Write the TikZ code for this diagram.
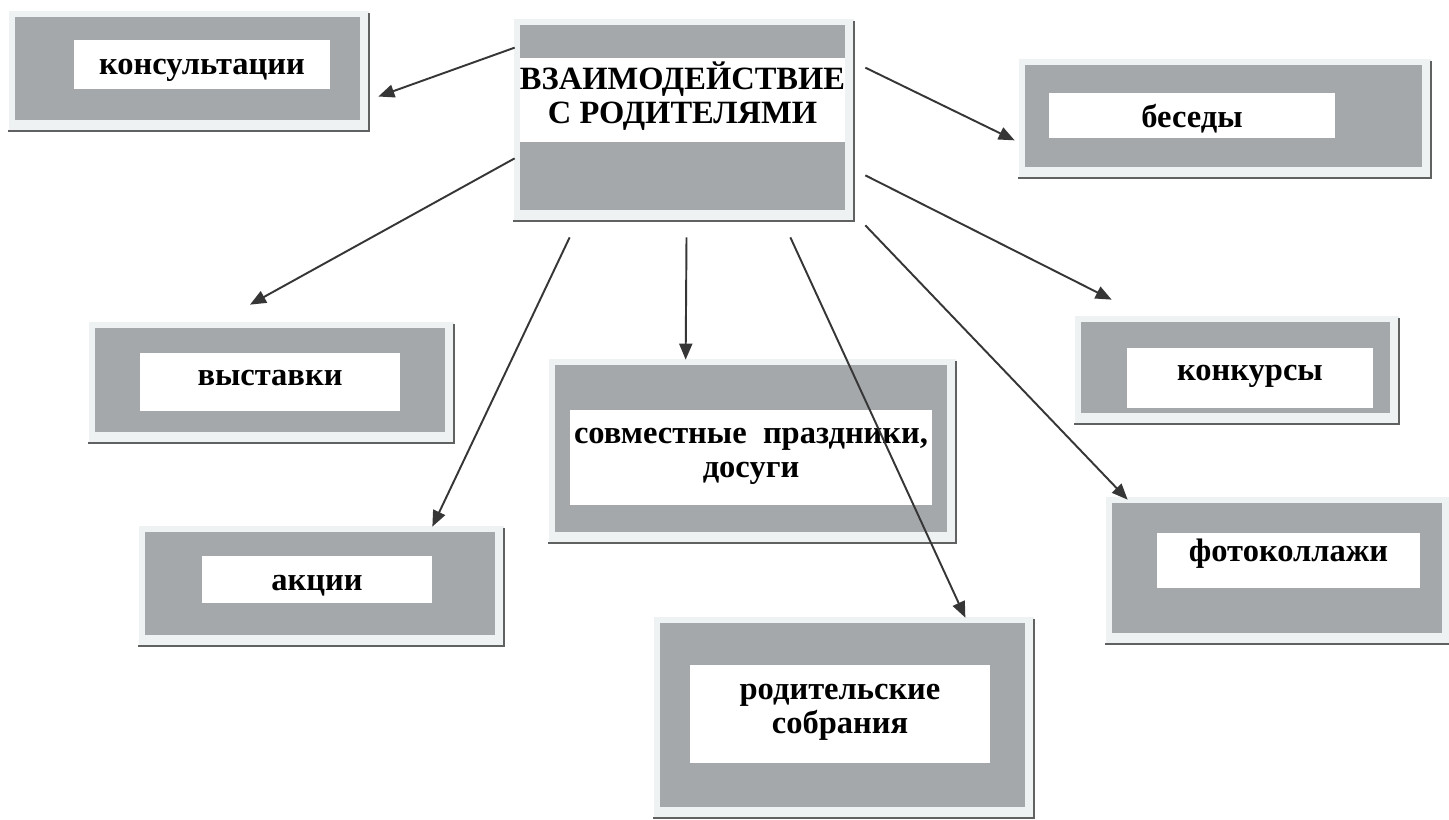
\documentclass[tikz,border=0pt]{standalone}
\usepackage{fontspec}
\setmainfont{Liberation Serif}
\usetikzlibrary{arrows.meta,calc,fit}

\definecolor{plategray}{HTML}{A4A8AA}
\definecolor{platerim}{HTML}{EEF2F3}
\definecolor{rimshadow}{HTML}{606262}
\definecolor{arrowgray}{HTML}{363636}

\tikzset{
  plate/.style={fill=plategray, inner sep=0pt},
  field/.style={fill=white, inner sep=0pt},
  caption/.style={inner sep=0pt, align=center,
    font=\bfseries\fontsize{18.5}{19.5}\selectfont},
  link/.style={draw=arrowgray, line width=1.1pt,
    -{Triangle[length=0.32cm,width=0.26cm]}},
}

\begin{document}
\begin{tikzpicture}[x=0.02cm, y=-0.02cm]
  \useasboundingbox (0,0) rectangle (1449,819);

  % name / grey plate / white field / text shift / text
  \foreach \n/\xa/\ya/\xb/\yb/\xc/\yc/\xd/\yd/\dy/\txt in {
      vz/520/25/845/210/520/58/845/142/-4/{ВЗАИМОДЕЙСТВИЕ\\С РОДИТЕЛЯМИ},
      kons/15/17/360/120/74/40/330/89/6/консультации,
      bes/1025/65/1422/167/1049/93/1335/138/3/беседы,
      vys/95/328/445/432/140/353/400/411/-4/выставки,
      konk/1081/322/1390/413/1127/348/1373/408/-2/конкурсы,
      sovm/555/365/947/532/570/410/932/505/-1/{совместные\ \ праздники,\\досуги},
      akc/145/532/495/635/202/556/432/603/6/акции,
      foto/1112/503/1442/633/1157/533/1420/588/-7/фотоколлажи,
      rod/660/623/1025/807/690/665/990/763/-2/{родительские\\собрания}} {
    \fill[platerim] (\xa-6,\ya-6) rectangle (\xb+9,\yb+11);
    \draw[rimshadow, line width=1.6pt] (\xb+9,\ya-4) -- (\xb+9,\yb+11) -- (\xa-7,\yb+11);
    \node[plate, fit={(\xa,\ya) (\xb,\yb)}] (\n) {};
    \node[field, fit={(\xc,\yc) (\xd,\yd)}] (\n-f) {};
    \node[caption] (\n-t) at ($(\n-f.center)+(0,\dy)$) {\txt};
  }

  % arrows from the centre
  \draw[link] ($(vz.north west)+(-5,23)$) -- ($(kons.east)+(18,28)$);
  \draw[link] ($(vz.north east)+(20,43)$) -- ($(bes.south west)+(-10,-27)$);
  \draw[link] ($(vz.south west)+(-5,-52)$) -- ($(vys.north)+(-20,-23)$);
  \draw[link] ($(vz.south west)+(50,27)$) -- ($(akc.north east)+(-63,-5)$);
  \draw[link] ($(vz.south)+(4,27)$) -- ($(sovm.north west)+(131,-5)$);
  \draw[link] ($(vz.south east)+(-55,27)$) -- ($(rod.north east)+(-60,-5)$);
  \draw[link] ($(vz.south east)+(20,-35)$) -- ($(konk.north west)+(31,-22)$);
  \draw[link] ($(vz.south east)+(20,15)$) -- ($(foto.north west)+(16,-3)$);
\end{tikzpicture}
\end{document}
